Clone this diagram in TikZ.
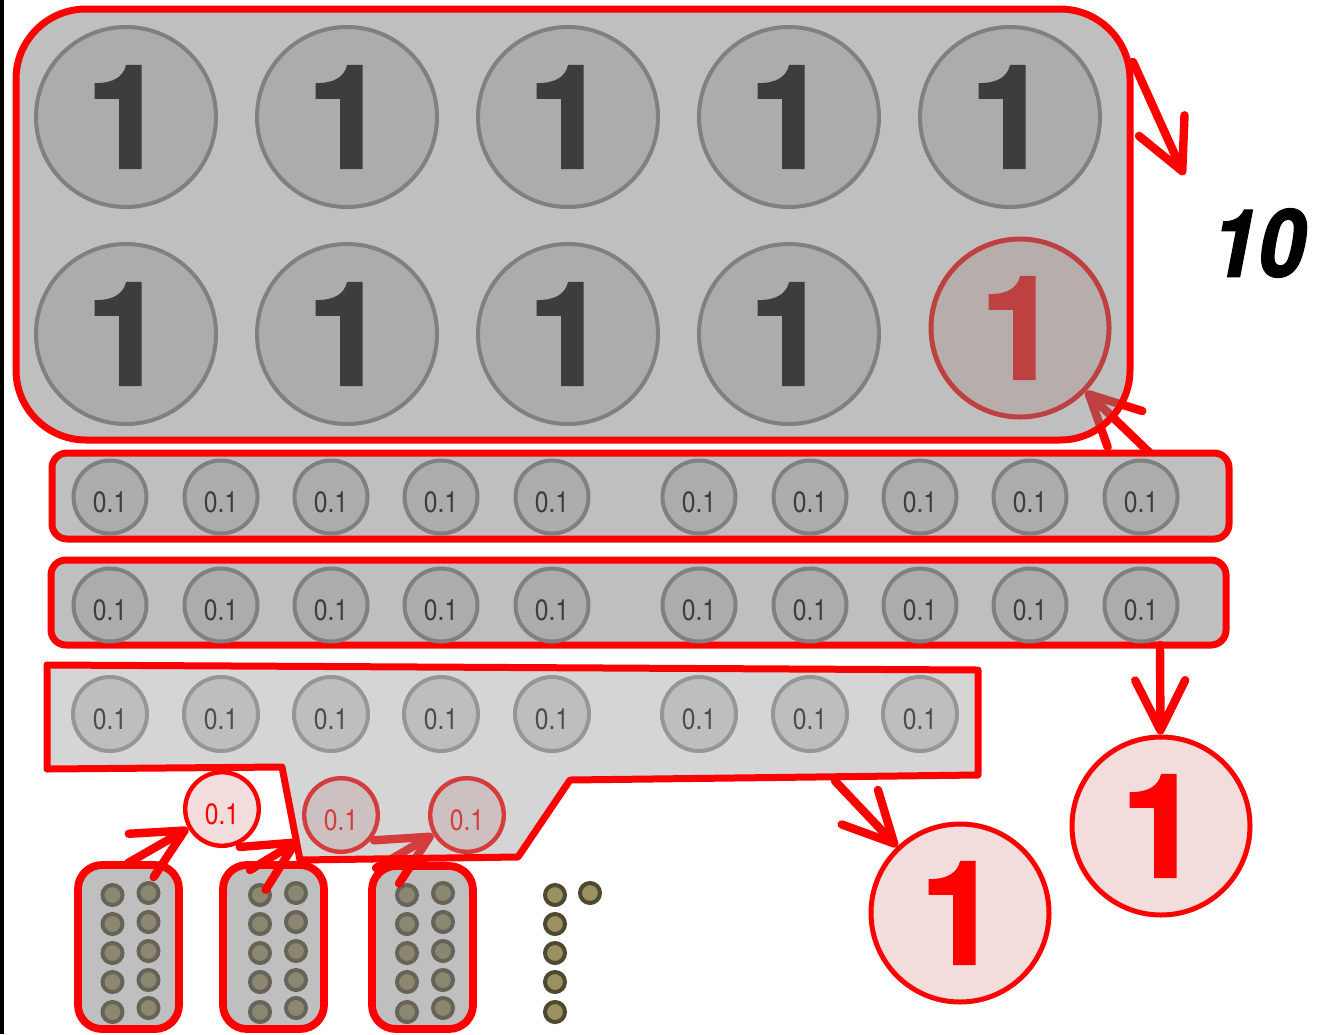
\documentclass[tikz,border=0pt]{standalone}
\usepackage{fontspec}
\setmainfont{TeX Gyre Heros}
\newfontfamily\heavyfam[FakeBold=1.6]{TeX Gyre Heros}
\newfontfamily\narrowfam[FakeStretch=0.84]{TeX Gyre Heros}
\newfontfamily\tenfam[FakeStretch=0.9,FakeBold=1.5]{TeX Gyre Heros}
\usetikzlibrary{arrows.meta}
\definecolor{bigfill}{HTML}{ACACAC}
\definecolor{bigstroke}{HTML}{808080}
\definecolor{bigtext}{HTML}{3D3D3D}
\definecolor{rowfill}{HTML}{BFBFBF}
\definecolor{lcfill}{HTML}{BEBEBE}
\definecolor{lcstroke}{HTML}{969696}
\definecolor{lctext}{HTML}{4D4D4D}
\definecolor{pinkfill}{HTML}{F2DCDC}
\definecolor{dotfill}{HTML}{9A9060}
\definecolor{dotstroke}{HTML}{4D4830}
\newcommand\myBig{\heavyfam\fontsize{72pt}{72pt}\selectfont\bfseries}
\newcommand\mySmall{\narrowfam\fontsize{14.7pt}{15pt}\selectfont}
\newcommand\myTen{\tenfam\fontsize{47pt}{47pt}\selectfont\bfseries\itshape}
\tikzset{
  bigc/.style={circle, draw=bigstroke, line width=2pt, fill=bigfill, minimum size=90pt, inner sep=0pt, text=bigtext, font=\myBig},
  redbig/.style={circle, draw=red, line width=2.5pt, fill=pinkfill, minimum size=89pt, inner sep=0pt, text=red, font=\myBig},
  smallc/.style={circle, draw=bigstroke, line width=2pt, fill=bigfill, minimum size=36.5pt, inner sep=0pt, text=bigtext, font=\mySmall, text height=15.5pt, text depth=0pt},
  lightc/.style={smallc, draw=lcstroke, fill=lcfill, text=lctext, minimum size=37pt},
  redsmall/.style={circle, draw=red, line width=2.2pt, fill=pinkfill, minimum size=36.8pt, inner sep=0pt, text=red, font=\mySmall, text height=15pt, text depth=0pt},
  dot/.style={circle, draw=dotstroke, fill=dotfill, line width=2pt, minimum size=10pt, inner sep=0pt},
  traytop/.style={draw=red, line width=3.5pt, fill=bigstroke, fill opacity=0.5, rounded corners=35pt},
  trayrow/.style={draw=red, line width=3.5pt, fill=rowfill, rounded corners=7.5pt},
  pillbox/.style={draw=red, line width=3.9pt, fill=bigstroke, fill opacity=0.5, rounded corners=12pt},
  polyC/.style={draw=red, line width=3.5pt, fill=lcstroke, fill opacity=0.4, line join=round},
  redarrow/.style={draw=red, line width=4.2pt, line cap=round, -{Straight Barb[length=25pt,width=25pt,round]}}
}
\begin{document}
\begin{tikzpicture}[x=0.5pt,y=-0.5pt]
\fill[white] (0,0) rectangle (1322,1034);
\useasboundingbox (0,0) rectangle (1322,1034);
\fill[black] (0,0) rectangle (3.5,1034);

% lone dots
\foreach \y [count=\i] in {895,924,953,982,1012} \node[dot] (ld\i) at (555,\y) {};
\node[dot] (ld6) at (590,893) {};
% pill dots
\foreach \px/\p in {112.5/1,260/2,407/3} {
  \foreach \y [count=\i] in {895,924,953,982,1012} \node[dot] (p\p l\i) at (\px,\y) {};
  \foreach \y [count=\i] in {893,922,951,980,1008} \node[dot] (p\p r\i) at (\px+36,\y) {};
}
% pills
\draw[pillbox] (78,865) rectangle (179,1029);
\draw[pillbox] (223,865) rectangle (324,1029);
\draw[pillbox] (372,866) rectangle (473,1029);

% red circle under the top tray
\node[redbig] (rc) at (1020,328) {1};
\coordinate (sA) at (1152,455);
\draw[redarrow] (sA) -- (rc);
\draw[traytop] (16,9) rectangle (1130,440);
\foreach \x [count=\i] in {126,347,568,789,1010} \node[bigc] (t\i) at (\x,117) {1};
\foreach \x [count=\i] in {126,347,568,789} \node[bigc] (u\i) at (\x,334) {1};

% rows A and B
\draw[trayrow] (52,453) rectangle (1229,539);
\draw[trayrow] (51,560) rectangle (1226,645);
\foreach \x [count=\i] in {110,221,331,441,552,699,810,920,1030,1141} {
  \node[smallc] (a\i) at (\x,497) {0.1};
  \node[smallc] (b\i) at (\x,605) {0.1};
}

% circles and arrows under the third tray
\node[redsmall] (f2) at (341,815) {0.1};
\node[redsmall] (f3) at (467,815) {0.1};
\coordinate (s2) at (250,870);
\draw[redarrow, shorten >=5pt] (s2) -- (f2);
\coordinate (s3) at (376,868);
\draw[redarrow] (s3) -- (f3);
\draw[polyC] (47,665) -- (978,670) -- (978,775) -- (570,780) -- (518,857) -- (300,860) -- (282,767) -- (47,769) -- cycle;
\foreach \x [count=\i] in {110,221,331,441,552,699,810,920} \node[lightc] (c\i) at (\x,714) {0.1};

\node[redsmall] (f1) at (222,809) {0.1};
\coordinate (s1) at (128,863);
\draw[redarrow] (s1) -- (f1);

% big red circles
\node[redbig] (L) at (960,913) {1};
\node[redbig] (R) at (1161,826) {1};
\coordinate (sL) at (835,781);
\draw[redarrow] (sL) -- (L);
\coordinate (sR) at (1160,645);
\draw[redarrow] (sR) -- (R);

% top right arrow and label
\coordinate (q1) at (1133,62);
\coordinate (q2) at (1184,175);
\draw[redarrow] (q1) -- (q2);
\node[font=\myTen, inner sep=0pt] (ten) at (1258,243) {10};
\end{tikzpicture}
\end{document}
